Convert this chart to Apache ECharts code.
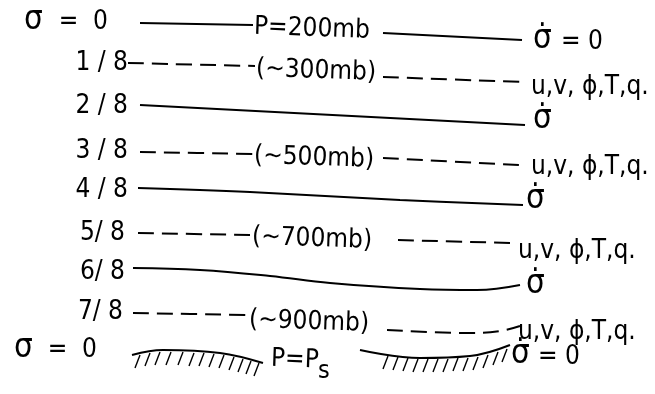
<!DOCTYPE html>
<html>
<head>
<meta charset="utf-8">
<script src="https://cdn.jsdelivr.net/npm/echarts@6/dist/echarts.min.js"></script>
<style>
html, body { margin: 0; background: #fff; }
#chart { width: 655px; height: 394px; }
</style>
</head>
<body>
<div id="chart"></div>
<script>
// sigma levels, top to bottom
var sigmaLabels = ['=  0', '1 / 8', '2 / 8', '3 / 8', '4 / 8', '5/ 8', '6/ 8', '7/ 8', '=  0'];
var pressureLabels = ['P=200mb', '(~300mb)', '', '(~500mb)', '', '(~700mb)', '', '(~900mb)', 'P=P'];
var rightLabels = ['= 0', 'u,v, ϕ,T,q.', '', 'u,v, ϕ,T,q.', '', 'u,v, ϕ,T,q.', '', 'u,v, ϕ,T,q.', '= 0'];
var sigmaSymbols = ['σ', '', '', '', '', '', '', '', 'σ'];
var sigmaDotSymbols = ['σ̇', '', 'σ̇', '', 'σ̇', '', 'σ̇', '', 'σ̇'];
var levelTypes = ['solid', 'dashed', 'solid', 'dashed', 'solid', 'dashed', 'solid', 'dashed', 'ground'];

// traced pieces of every level line, [x, y] in picture pixels
var levelLines = [
    [[[140, 23], [253, 25]], [[383, 33], [522, 40]]],
    [[[128, 63], [255, 66]], [[383, 77], [523, 82]]],
    [[[140, 105], [525, 125]]],
    [[[140, 152], [255, 154]], [[383, 158], [520, 165]]],
    [[[138, 188], [250, 192], [400, 200], [523, 205]]],
    [[[138, 233], [250, 235]], [[398, 240], [510, 243]]],
    [[[133, 268], [200, 270], [270, 276], [330, 283], [420, 289], [477, 290], [520, 285]]],
    [[[133, 313], [248, 315]], [[387, 330], [470, 333], [500, 331], [520, 326]]],
    [[[132, 355], [163, 350], [220, 353], [263, 363]], [[360, 350], [420, 358], [470, 356], [510, 345]]]
];

// hatch marks under the ground (top of each mark)
var hatchLeft = [[137, 354], [147, 352], [157, 351], [168, 351], [180, 351], [191, 352], [201, 352],
    [211, 353], [221, 354], [231, 356], [240, 358], [248, 360], [256, 362]];
var hatchRight = [[385, 355], [395, 356], [405, 357], [415, 358], [425, 358], [435, 358], [445, 358],
    [455, 357], [465, 357], [475, 356], [485, 354], [495, 351], [504, 348]];

// label anchors: left column by right edge, others by left edge (vertical middle)
var sigmaPos = [[108, 22], [128, 63], [128, 106], [128, 151], [128, 190], [125, 233], [125, 272], [123, 312], [97, 350]];
var sigmaSymbolPos = [[24, 20], null, null, null, null, null, null, null, [14, 348]];
var pressurePos = [[254, 27], [256, 69], null, [254, 156], null, [252, 237], null, [249, 320], [271, 359]];
var rightPos = [[561, 42], [531, 87], null, [531, 167], null, [518, 251], null, [518, 332], [538, 357]];
var sigmaDotPos = [[533, 39], null, [533, 119], null, [526, 199], null, [526, 284], null, [511, 354]];
var subscript = { text: 's', pos: [318, 371] };

var ink = '#000';
var font = {
    fontFamily: "'DejaVu Sans Condensed', 'Liberation Sans Narrow', 'DejaVu Sans'",
    fontSize: 26,
    color: ink
};

var series = [];
levelLines.forEach(function (pieces, i) {
    pieces.forEach(function (piece) {
        series.push({
            type: 'line',
            data: piece,
            smooth: 0.4,
            symbol: 'none',
            silent: true,
            lineStyle: {
                color: ink,
                width: 2,
                type: levelTypes[i] === 'dashed' ? [16, 8] : 'solid'
            }
        });
    });
});

function hatch(data) {
    return {
        type: 'custom',
        data: data,
        silent: true,
        renderItem: function (params, api) {
            var p = api.coord([api.value(0), api.value(1)]);
            return {
                type: 'line',
                shape: { x1: p[0] + 3, y1: p[1] + 1, x2: p[0] - 2, y2: p[1] + 14 },
                style: { stroke: ink, lineWidth: 1.4 }
            };
        }
    };
}
series.push(hatch(hatchLeft), hatch(hatchRight));

function textSeries(texts, pos, extra) {
    var data = [];
    texts.forEach(function (t, i) {
        if (t && pos[i]) data.push({ name: t, value: pos[i] });
    });
    return {
        type: 'scatter',
        symbolSize: 0,
        silent: true,
        itemStyle: { opacity: 1 },
        data: data,
        label: Object.assign({
            show: true,
            position: 'right',
            distance: 0,
            formatter: '{b}',
            verticalAlign: 'middle'
        }, font, extra || {})
    };
}
series.push(textSeries(sigmaLabels, sigmaPos, { position: 'left' }));
series.push(textSeries(sigmaSymbols, sigmaSymbolPos, { fontSize: 33 }));
series.push(textSeries(pressureLabels, pressurePos, { rotate: -2 }));
series.push(textSeries(rightLabels, rightPos));
series.push(textSeries(sigmaDotSymbols, sigmaDotPos, { fontSize: 33 }));
series.push(textSeries([subscript.text], [subscript.pos], { fontSize: 25 }));

var chart = echarts.init(document.getElementById('chart'));
chart.setOption({
    animation: false,
    backgroundColor: '#fff',
    grid: { left: 0, right: 0, top: 0, bottom: 0 },
    xAxis: { type: 'value', min: 0, max: 655, show: false },
    yAxis: { type: 'value', min: 0, max: 394, inverse: true, show: false },
    series: series
});
</script>
</body>
</html>
